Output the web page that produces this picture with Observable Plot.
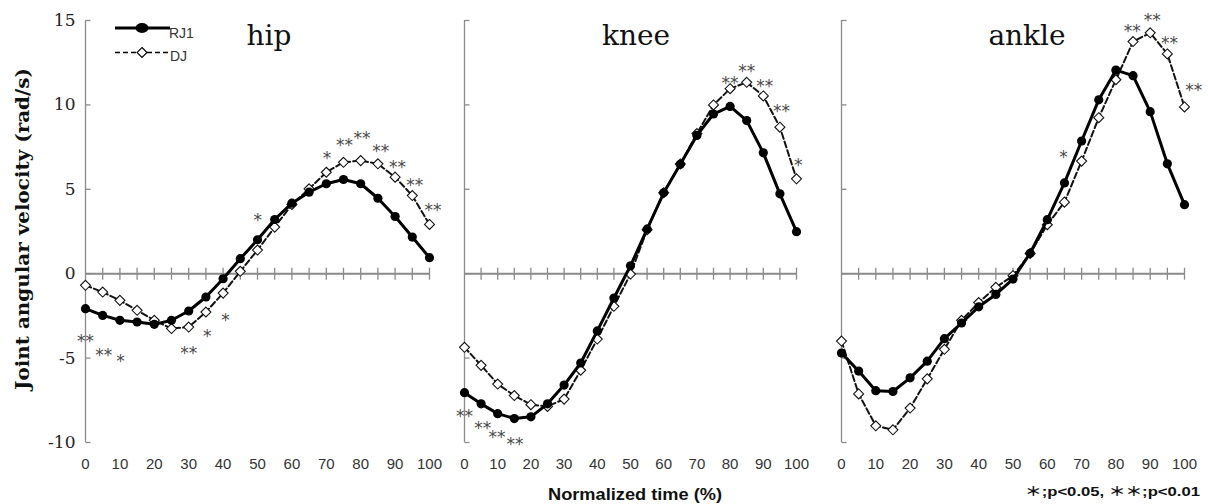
<!DOCTYPE html>
<html><head><meta charset="utf-8">
<script src="https://cdn.jsdelivr.net/npm/d3@7"></script>
<script src="https://cdn.jsdelivr.net/npm/@observablehq/plot@0.6"></script>
<style>
body{margin:0;background:#fff;}
#root{position:relative;width:1208px;height:504px;overflow:hidden;background:#fff;}
#root > svg{position:absolute;top:0;}
</style></head><body><div id="root"></div>
<script>
// ---- data ----
const times = [0,5,10,15,20,25,30,35,40,45,50,55,60,65,70,75,80,85,90,95,100];
const hipRJ1   = [-2.07,-2.47,-2.76,-2.86,-3.0,-2.76,-2.21,-1.38,-0.30,0.89,2.01,3.21,4.18,4.83,5.33,5.58,5.33,4.47,3.39,2.17,0.95];
const hipDJ    = [-0.69,-1.09,-1.58,-2.17,-2.76,-3.25,-3.16,-2.27,-1.15,0.14,1.40,2.76,4.10,5.03,6.01,6.60,6.70,6.51,5.72,4.63,2.92];
const kneeRJ1  = [-7.05,-7.71,-8.29,-8.58,-8.48,-7.71,-6.60,-5.29,-3.39,-1.44,0.47,2.64,4.79,6.48,8.19,9.46,9.91,9.07,7.16,4.73,2.49];
const kneeDJ   = [-4.36,-5.43,-6.54,-7.22,-7.76,-7.86,-7.43,-5.72,-3.87,-1.93,-0.02,2.60,4.80,6.50,8.30,10.0,10.96,11.34,10.53,8.68,5.62];
const ankleRJ1 = [-4.70,-5.77,-6.93,-6.98,-6.17,-5.18,-3.85,-2.92,-1.96,-1.23,-0.32,1.21,3.20,5.38,7.86,10.30,12.06,11.73,9.60,6.51,4.09];
const ankleDJ  = [-3.99,-7.12,-9.01,-9.25,-7.96,-6.23,-4.48,-2.76,-1.71,-0.81,-0.12,1.20,2.90,4.24,6.67,9.24,11.49,13.75,14.27,13.02,9.88];

// significance marks (time, value where the mark sits, label)
const hipSigT   = [0,5.3,10.2,30,35.4,40.7,50.1,70.2,75.3,80.4,85.8,90.7,95.7,101];
const hipSigY   = [-3.75,-4.54,-4.93,-4.44,-3.45,-2.47,3.45,7.10,7.89,8.28,7.55,6.57,5.52,4.04];
const hipSigL   = ["**","**","*","**","*","*","*","*","**","**","**","**","**","**"];
const kneeSigT  = [0,5.5,9.8,15.2,80,85,90.4,95.5,100.5];
const kneeSigY  = [-8.19,-8.89,-9.42,-9.85,11.56,12.28,11.37,9.91,6.73];
const kneeSigL  = ["**","**","**","**","**","**","**","**","*"];
const ankleSigT = [64.7,84.8,90.6,95.6,102.7];
const ankleSigY = [7.16,14.64,15.3,13.91,11.13];
const ankleSigL = ["*","**","**","**","**"];

const yTicks = [-10,-5,0,5,10,15];
const xTicks = [0,10,20,30,40,50,60,70,80,90,100];
const xMinor = [5,10,15,20,25,30,35,40,45,50,55,60,65,70,75,80,85,90,95,100];
const titles = ["hip","knee","ankle"];

// ---- layout ----
const panels = [
  {name:titles[0], rj1:hipRJ1, dj:hipDJ, sigT:hipSigT, sigY:hipSigY, sigL:hipSigL, left:0,   ml:85, iw:344, mr:22, labels:true},
  {name:titles[1], rj1:kneeRJ1, dj:kneeDJ, sigT:kneeSigT, sigY:kneeSigY, sigL:kneeSigL, left:440, ml:24, iw:332, mr:22, labels:false},
  {name:titles[2], rj1:ankleRJ1, dj:ankleDJ, sigT:ankleSigT, sigY:ankleSigY, sigL:ankleSigL, left:816, ml:25, iw:343, mr:24, labels:false}
];
const axisGray = "#8a8a8a";
const vline = {draw(ctx, size){const r=Math.sqrt(size/Math.PI); ctx.moveTo(0,-r); ctx.lineTo(0,r);}};
const hline = {draw(ctx, size){const r=Math.sqrt(size/Math.PI); ctx.moveTo(0,0); ctx.lineTo(r,0);}};

const root = document.getElementById("root");
for (const p of panels) {
  const rj = times.map((t,i)=>({t, v:p.rj1[i]}));
  const dj = times.map((t,i)=>({t, v:p.dj[i]}));
  const sig = p.sigT.map((t,i)=>({t, v:p.sigY[i], label:p.sigL[i]}));
  const svg = Plot.plot({
    width: p.ml + p.iw + p.mr, height: 504,
    marginLeft: p.ml, marginRight: p.mr, marginTop: 20, marginBottom: 62,
    x: {domain:[0,100]},
    y: p.labels ? {domain:[-10,15]} : {domain:[-10,15], axis:null},
    style: {background:"transparent", overflow:"visible", fontFamily:"Liberation Sans"},
    marks: [
      Plot.ruleX([0], {y1:-10, y2:15, stroke:axisGray, strokeWidth:1.3}),
      Plot.dot(yTicks, {x:0, y:d=>d, symbol:hline, r:5, stroke:axisGray, strokeWidth:1.3}),
      Plot.ruleY([0], {x1:0, x2:100, stroke:axisGray, strokeWidth:2}),
      Plot.dot(xMinor, {x:d=>d, y:0, symbol:vline, r:6, stroke:axisGray, strokeWidth:1.3}),
      p.labels ? Plot.axisY(yTicks, {tickSize:0, tickPadding:10, label:null,
        tickFormat:d=>d<0 ? "-" + (-d) : String(d), fontSize:17, fontFamily:"DejaVu Serif", color:"#222"}) : null,
      Plot.axisX(xTicks, {tickSize:0, tickPadding:16, label:null, fontSize:15, fontFamily:"Liberation Sans", color:"#333"}),
      Plot.line(dj, {x:"t", y:"v", stroke:"#111", strokeWidth:2, strokeDasharray:"6,3"}),
      Plot.dot(dj, {x:"t", y:"v", symbol:"diamond2", r:4.5, fill:"white", stroke:"#111", strokeWidth:1.1}),
      Plot.line(rj, {x:"t", y:"v", stroke:"#000", strokeWidth:3}),
      Plot.dot(rj, {x:"t", y:"v", r:4.6, fill:"#000"}),
      Plot.text(sig, {x:"t", y:"v", text:"label", fontSize:17, fontFamily:"DejaVu Sans", fill:"#4a4a4a", dy:5})
    ]
  });
  svg.style.left = p.left + "px";
  root.appendChild(svg);
}

// ---- overlay: titles, legend, axis titles, footnote ----
const NS = "http://www.w3.org/2000/svg";
const ov = document.createElementNS(NS, "svg");
ov.setAttribute("width", 1208); ov.setAttribute("height", 504);
ov.style.left = "0px";
function el(tag, attrs, text) {
  const e = document.createElementNS(NS, tag);
  for (const k in attrs) e.setAttribute(k, attrs[k]);
  if (text != null) e.textContent = text;
  ov.appendChild(e); return e;
}
const titleX = [269, 636, 1027];
titles.forEach((t,i)=>el("text", {x:titleX[i], y:45, "text-anchor":"middle", "font-family":"DejaVu Serif", "font-size":28, fill:"#111"}, t));
// legend
el("line", {x1:115, x2:170, y1:28, y2:28, stroke:"#000", "stroke-width":3});
el("ellipse", {cx:142, cy:28, rx:6.5, ry:5, fill:"#000"});
el("text", {x:169, y:38, "font-family":"Liberation Sans", "font-size":14, fill:"#333"}, "RJ1");
el("line", {x1:115, x2:168, y1:52.5, y2:52.5, stroke:"#000", "stroke-width":1.6, "stroke-dasharray":"5,3"});
el("path", {d:"M142,47.5L147,52.5L142,57.5L137,52.5Z", fill:"#fff", stroke:"#000", "stroke-width":1.1});
el("text", {x:170, y:61, "font-family":"Liberation Sans", "font-size":14, fill:"#333"}, "DJ");
// y label
el("text", {transform:"translate(29,229) rotate(-90)", "text-anchor":"middle", "font-family":"DejaVu Serif", "font-weight":"bold", "font-size":18, fill:"#111", textLength:322, lengthAdjust:"spacingAndGlyphs"}, "Joint angular velocity (rad/s)");
// x label
el("text", {x:548, y:500, "font-family":"Liberation Sans", "font-weight":"bold", "font-size":16, fill:"#111", textLength:174, lengthAdjust:"spacingAndGlyphs", "xml:space":"preserve"}, "Normalized  time (%)");
// footnote
el("text", {x:1025, y:496, "font-family":"Liberation Sans, Noto Sans CJK JP", "font-weight":"bold", "font-size":13, fill:"#111", textLength:175, lengthAdjust:"spacingAndGlyphs"}, "＊;p<0.05,  ＊＊;p<0.01");
root.appendChild(ov);
</script></body></html>
